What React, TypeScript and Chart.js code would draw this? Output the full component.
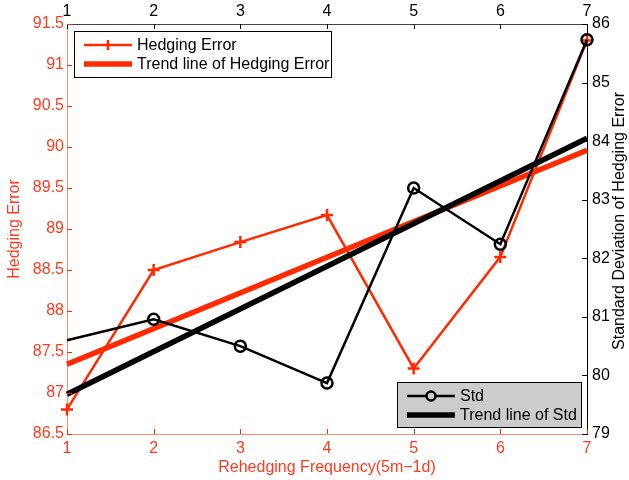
import React, { useEffect, useRef } from 'react';
import { Chart, registerables } from 'chart.js';

Chart.register(...registerables);

// ---- data ----
const xValues = [1, 2, 3, 4, 5, 6, 7];
const hedgingError = [86.8, 88.5, 88.84, 89.17, 87.3, 88.66, 91.3];
const stdDev = [80.6, 80.96, 80.5, 79.87, 83.2, 82.24, 85.73];
const trendX = [1, 7];
const hedgingTrend = [87.35, 89.96];
const stdTrend = [79.68, 84.05];
const stdMarkerShown = [false, true, true, true, true, true, true];

const leftRange = [86.5, 91.5];
const rightRange = [79, 86];
const xRange = [1, 7];

const legendTopLabels = ['Hedging Error', 'Trend line of Hedging Error'];
const legendBottomLabels = ['Std', 'Trend line of Std'];
const xTitle = 'Rehedging Frequency(5m\u22121d)';
const leftTitle = 'Hedging Error';
const rightTitle = 'Standard Deviation of Hedging Error';

const RED = '#ff2a00';
const RED_TEXT = '#ff3a1f';
const RED_AXIS = '#ff8a78';
const FONT = "'Liberation Sans', Arial, Helvetica, sans-serif";
const FS = 16;

const fmt = (v: any) => String(Math.round(Number(v) * 10) / 10);

const innerTicks = {
  id: 'innerTicks',
  afterDatasetsDraw(chart: any) {
    const ctx = chart.ctx;
    const a = chart.chartArea;
    const L = 5;
    ctx.save();
    ctx.lineWidth = 1;
    const sx = chart.scales.x;
    ctx.strokeStyle = RED;
    sx.ticks.forEach((t: any) => {
      const px = Math.round(sx.getPixelForValue(t.value)) + 0.5;
      ctx.beginPath(); ctx.moveTo(px, a.bottom); ctx.lineTo(px, a.bottom - L); ctx.stroke();
    });
    const sx2 = chart.scales.x2;
    ctx.strokeStyle = '#000';
    sx2.ticks.forEach((t: any) => {
      const px = Math.round(sx2.getPixelForValue(t.value)) + 0.5;
      ctx.beginPath(); ctx.moveTo(px, a.top); ctx.lineTo(px, a.top + L); ctx.stroke();
    });
    const sy = chart.scales.y;
    ctx.strokeStyle = RED;
    sy.ticks.forEach((t: any) => {
      const py = Math.round(sy.getPixelForValue(t.value)) + 0.5;
      ctx.beginPath(); ctx.moveTo(a.left, py); ctx.lineTo(a.left + L, py); ctx.stroke();
    });
    const sy1 = chart.scales.y1;
    ctx.strokeStyle = '#000';
    sy1.ticks.forEach((t: any) => {
      const py = Math.round(sy1.getPixelForValue(t.value)) + 0.5;
      ctx.beginPath(); ctx.moveTo(a.right, py); ctx.lineTo(a.right - L, py); ctx.stroke();
    });
    ctx.restore();
  },
};

function drawLegend(ctx: any, box: any, labels: string[], fill: string, color: string, marker: 'cross' | 'circle') {
  ctx.save();
  ctx.fillStyle = fill;
  ctx.fillRect(box.x, box.y, box.w, box.h);
  ctx.strokeStyle = '#000';
  ctx.lineWidth = 1;
  ctx.strokeRect(box.x + 0.5, box.y + 0.5, box.w, box.h);
  const x0 = box.x + 10;
  const x1 = box.x + 58;
  const rows = [box.y + 14, box.y + 33];
  ctx.strokeStyle = color;
  ctx.lineWidth = 2.5;
  ctx.beginPath(); ctx.moveTo(x0, rows[0]); ctx.lineTo(x1, rows[0]); ctx.stroke();
  const cx = (x0 + x1) / 2;
  if (marker === 'cross') {
    ctx.beginPath();
    ctx.moveTo(cx, rows[0] - 5); ctx.lineTo(cx, rows[0] + 5);
    ctx.stroke();
  } else {
    ctx.fillStyle = fill;
    ctx.beginPath(); ctx.arc(cx, rows[0], 4.5, 0, Math.PI * 2); ctx.fill(); ctx.stroke();
  }
  ctx.lineWidth = 5.5;
  ctx.beginPath(); ctx.moveTo(x0, rows[1]); ctx.lineTo(x1, rows[1]); ctx.stroke();
  ctx.fillStyle = '#000';
  ctx.font = `${FS}px ${FONT}`;
  ctx.textBaseline = 'middle';
  ctx.textAlign = 'left';
  ctx.fillText(labels[0], x1 + 5, rows[0] + 1);
  ctx.fillText(labels[1], x1 + 5, rows[1] + 1);
  ctx.restore();
}

const legends = {
  id: 'customLegends',
  afterDraw(chart: any) {
    const ctx = chart.ctx;
    drawLegend(ctx, { x: 74, y: 31, w: 257, h: 46 }, legendTopLabels, '#ffffff', RED, 'cross');
    drawLegend(ctx, { x: 397, y: 382, w: 184, h: 45 }, legendBottomLabels, '#cccccc', '#000', 'circle');
    // right axis title, reading bottom-to-top
    const a = chart.chartArea;
    ctx.save();
    ctx.translate(620, (a.top + a.bottom) / 2 - 8);
    ctx.rotate(-Math.PI / 2);
    ctx.font = `${FS}px ${FONT}`;
    ctx.fillStyle = '#000';
    ctx.textAlign = 'center';
    ctx.textBaseline = 'middle';
    ctx.fillText(rightTitle, 0, 0);
    ctx.restore();
  },
};

export default function App() {
  const ref = useRef<HTMLCanvasElement | null>(null);
  useEffect(() => {
    if (!ref.current) return;
    const he = xValues.map((x, i) => ({ x, y: hedgingError[i] }));
    const sd = xValues.map((x, i) => ({ x, y: stdDev[i] }));
    const heT = trendX.map((x, i) => ({ x, y: hedgingTrend[i] }));
    const sdT = trendX.map((x, i) => ({ x, y: stdTrend[i] }));
    const tickFont = { family: FONT, size: FS };
    const chart = new Chart(ref.current, {
      type: 'line',
      data: {
        datasets: [
          {
            label: legendTopLabels[0], data: he, xAxisID: 'x', yAxisID: 'y',
            borderColor: RED, borderWidth: 2.5, pointStyle: 'cross', pointRadius: 6,
            pointBorderColor: RED, pointBorderWidth: 2.5, fill: false, order: 4, clip: false,
          } as any,
          {
            label: legendTopLabels[1], data: heT, xAxisID: 'x', yAxisID: 'y',
            borderColor: RED, borderWidth: 5.5, pointRadius: 0, fill: false, order: 3, clip: false,
          } as any,
          {
            label: legendBottomLabels[0], data: sd, xAxisID: 'x', yAxisID: 'y1',
            borderColor: '#000', borderWidth: 2.5,
            pointRadius: stdMarkerShown.map((s) => (s ? 5.5 : 0)),
            pointBorderColor: '#000', pointBackgroundColor: 'rgba(0,0,0,0)', pointBorderWidth: 2.5,
            fill: false, order: 2, clip: false,
          } as any,
          {
            label: legendBottomLabels[1], data: sdT, xAxisID: 'x', yAxisID: 'y1',
            borderColor: '#000', borderWidth: 5.5, pointRadius: 0, fill: false, order: 1, clip: false,
          } as any,
        ],
      },
      options: {
        responsive: false,
        animation: false,
        devicePixelRatio: 1,
        layout: { padding: 0 },
        plugins: { legend: { display: false }, tooltip: { enabled: false } },
        scales: {
          x: {
            type: 'linear', position: 'bottom', min: xRange[0], max: xRange[1],
            ticks: { stepSize: 1, color: RED_TEXT, font: tickFont, padding: 5, maxRotation: 0, callback: fmt },
            grid: { display: true, drawOnChartArea: false, drawTicks: false },
            border: { display: true, color: RED_AXIS, width: 1 },
            title: { display: true, text: xTitle, color: RED_TEXT, font: tickFont, padding: { top: 0, bottom: 3 } },
            afterFit: (s: any) => { s.height = 46; },
          },
          x2: {
            type: 'linear', axis: 'x', position: 'top', min: xRange[0], max: xRange[1],
            ticks: { stepSize: 1, color: '#000', font: tickFont, padding: 3, maxRotation: 0, callback: fmt },
            grid: { display: true, drawOnChartArea: false, drawTicks: false },
            border: { display: true, color: '#444', width: 1 },
            afterFit: (s: any) => { s.height = 24; },
          },
          y: {
            type: 'linear', position: 'left', min: leftRange[0], max: leftRange[1],
            ticks: { stepSize: 0.5, color: RED_TEXT, font: tickFont, padding: 3, callback: fmt },
            grid: { display: true, drawOnChartArea: false, drawTicks: false },
            border: { display: true, color: RED_AXIS, width: 1 },
            title: { display: true, text: leftTitle, color: RED_TEXT, font: tickFont, padding: { top: 5, bottom: 0 } },
            afterFit: (s: any) => { s.width = 67; },
          },
          y1: {
            type: 'linear', position: 'right', min: rightRange[0], max: rightRange[1],
            ticks: { stepSize: 1, color: '#000', font: tickFont, padding: 5, callback: fmt },
            grid: { display: true, drawOnChartArea: false, drawTicks: false },
            border: { display: true, color: '#000', width: 1 },
            afterFit: (s: any) => { s.width = 42; },
          },
        },
      } as any,
      plugins: [innerTicks, legends],
    });
    return () => chart.destroy();
  }, []);
  return (
    <div style={{ position: 'absolute', left: 0, top: 0, width: 629, height: 480, background: '#fff' }}>
      <canvas ref={ref} width={629} height={480} />
    </div>
  );
}
